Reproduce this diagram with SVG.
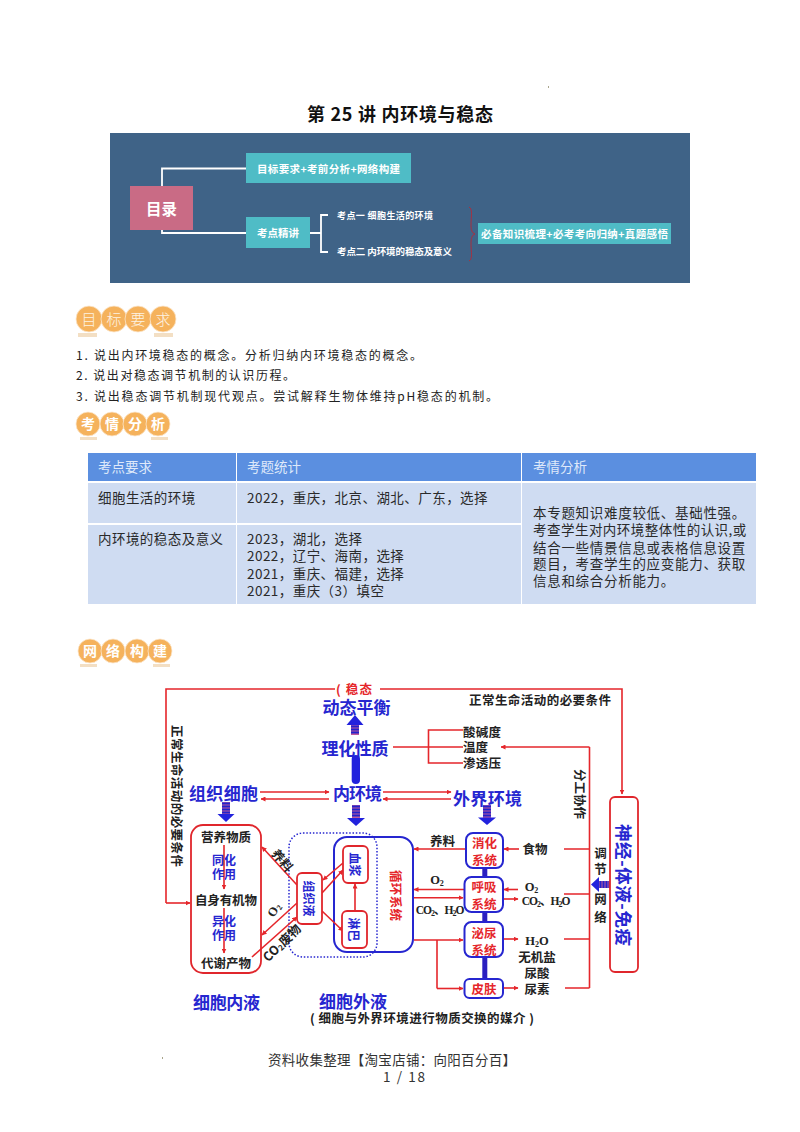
<svg xmlns="http://www.w3.org/2000/svg" width="800" height="1132" viewBox="0 0 800 1132">
<style>
text{font-family:"Noto Sans CJK SC","Noto Sans",sans-serif;dominant-baseline:central}
text:not([transform]){transform:translateY(-1px)}
.m{text-anchor:middle}
.b{font-weight:700}
.bn{fill:#fff;font-weight:700}
.teal{fill:#4fbcc6}
.wl{fill:none;stroke:#fff;stroke-width:1.8}
.circ{fill:#f5b25c;stroke:#fbe6cb;stroke-width:.8}
.shad{fill:#f3dfc4}
.bt{fill:#fdf3e3;font-size:15px;font-weight:300;text-anchor:middle}
.bt2{fill:#fff;font-size:14px;font-weight:700;text-anchor:middle}
.goal{font-size:12px;fill:#222}
.hd{fill:#5b8fe0}
.row{fill:#cfdcf2}
.th{font-size:13.5px;fill:#dfe9fa}
.td{font-size:13.5px;fill:#2a2a2a;letter-spacing:.45px}
.tw{font-size:13.5px;fill:#2a2a2a;letter-spacing:.7px}
.r{fill:none;stroke:#e5262b;stroke-width:1.6}
.ra{fill:none;stroke:#e5262b;stroke-width:1.6;marker-end:url(#a)}
.rb{fill:#fff;stroke:#e0262c;stroke-width:1.8}
.bb{fill:#fff;stroke:#2626d0;stroke-width:2}
.title{font-size:17px;font-weight:700;fill:#2626d0}
.k{font-size:12.5px;font-weight:700;fill:#222}
.sm{font-size:12px;font-weight:700;fill:#2626d0}
.red{font-size:12.5px;font-weight:700;fill:#e5262b}
.lat{font-family:"Liberation Serif",serif;font-size:12.5px;font-weight:700;fill:#222}
.cw{font-family:"Liberation Serif","Noto Sans CJK SC",serif;font-size:11.5px;font-weight:700;fill:#222;letter-spacing:-1px}
.fat{fill:#2222dd}
.under{fill:#c05a9a}
.stripe{stroke:#2222cc;stroke-width:2}
.bar{fill:#2a1fc0}
</style>
<defs>
<marker id="a" viewBox="0 0 10 10" refX="9" refY="5" markerWidth="5" markerHeight="5" markerUnits="userSpaceOnUse" orient="auto"><path d="M0 0L10 5L0 10z" fill="#e5262b"/></marker>
</defs>
<rect width="800" height="1132" fill="#fff"/>

<text x="400" y="114" class="m b" font-size="18" fill="#111" textLength="186">第 25 讲 内环境与稳态</text>

<g id="banner">
<rect x="110" y="133" width="580" height="150" fill="#3f6387"/>
<path class="wl" d="M162 186V168.500H246M162 230V233H246M310 233H321M328 215H321V252H328"/>
<path d="M469 207C473 209 471 216 471 225C471 230 472 233 475 234C472 235 471 238 471 244C471 252 473 259 469 261" fill="none" stroke="#a83040" stroke-width="1"/>
<g id="banner-root"><rect x="130" y="186" width="63" height="44" fill="#c96b85"/><text x="161.500" y="209" class="m bn" font-size="15.500">目录</text></g>
<g id="banner-a"><rect x="246" y="153" width="165" height="30" class="teal"/><text x="328.500" y="169" class="m bn" font-size="10.500" textLength="143">目标要求+考前分析+网络构建</text></g>
<g id="banner-b"><rect x="246" y="217" width="64" height="31" class="teal"/><text x="278" y="233" class="m bn" font-size="10.500">考点精讲</text></g>
<text x="337" y="216" class="bn" font-size="9" textLength="96">考点一 细胞生活的环境</text>
<text x="337" y="252" class="bn" font-size="9.500" textLength="115">考点二 内环境的稳态及意义</text>
<g id="banner-c"><rect x="478" y="223" width="193" height="21" class="teal"/><text x="574.500" y="234" class="m bn" font-size="10.500" textLength="187">必备知识梳理+必考考向归纳+真题感悟</text></g>
</g>

<g id="badge-goal">
<rect x="78" y="333" width="19" height="4" class="shad"/><rect x="154" y="333" width="19" height="4" class="shad"/>
<circle cx="89" cy="319" r="13" class="circ"/><circle cx="114" cy="319" r="13" class="circ"/><circle cx="138" cy="319" r="13" class="circ"/><circle cx="163" cy="319" r="13" class="circ"/>
<text x="89" y="319" class="bt">目</text><text x="114" y="319" class="bt">标</text><text x="138" y="319" class="bt">要</text><text x="163" y="319" class="bt">求</text>
</g>
<text x="76" y="355" class="goal" textLength="346">1. 说出内环境稳态的概念。分析归纳内环境稳态的概念。</text>
<text x="76" y="375" class="goal" textLength="219">2. 说出对稳态调节机制的认识历程。</text>
<text x="76" y="396" class="goal" textLength="422">3. 说出稳态调节机制现代观点。尝试解释生物体维持pH稳态的机制。</text>

<g id="badge-exam">
<rect x="80" y="437" width="17" height="3" class="shad"/><rect x="151" y="437" width="17" height="3" class="shad"/>
<circle cx="88" cy="424" r="12" class="circ"/><circle cx="112" cy="424" r="12" class="circ"/><circle cx="135" cy="424" r="12" class="circ"/><circle cx="158" cy="424" r="12" class="circ"/>
<text x="88" y="424" class="bt2">考</text><text x="112" y="424" class="bt2">情</text><text x="135" y="424" class="bt2">分</text><text x="158" y="424" class="bt2">析</text>
</g>

<g id="table">
<rect x="88" y="453" width="148" height="28" class="hd"/><rect x="237" y="453" width="284" height="28" class="hd"/><rect x="522" y="453" width="234" height="28" class="hd"/>
<rect x="88" y="483" width="148" height="40" class="row"/><rect x="237" y="483" width="284" height="40" class="row"/>
<rect x="88" y="525" width="148" height="79" class="row"/><rect x="237" y="525" width="284" height="79" class="row"/>
<rect x="522" y="483" width="234" height="121" class="row"/>
<text x="98" y="467" class="th">考点要求</text><text x="247" y="467" class="th">考题统计</text><text x="533" y="467" class="th">考情分析</text>
<text x="98" y="498" class="td">细胞生活的环境</text>
<text x="247" y="498" class="td">2022，重庆，北京、湖北、广东，选择</text>
<text x="98" y="539" class="td">内环境的稳态及意义</text>
<text x="247" y="539" class="td">2023，湖北，选择</text>
<text x="247" y="556" class="td">2022，辽宁、海南，选择</text>
<text x="247" y="574" class="td">2021，重庆、福建，选择</text>
<text x="247" y="591" class="td">2021，重庆（3）填空</text>
<text x="533" y="513" class="tw">本专题知识难度较低、基础性强。</text>
<text x="533" y="530" class="tw" textLength="214">考查学生对内环境整体性的认识,或</text>
<text x="533" y="548" class="tw">结合一些情景信息或表格信息设置</text>
<text x="533" y="564" class="tw">题目，考查学生的应变能力、获取</text>
<text x="533" y="581" class="tw">信息和综合分析能力。</text>
</g>

<g id="badge-net">
<rect x="80" y="664" width="17" height="3" class="shad"/><rect x="153" y="664" width="17" height="3" class="shad"/>
<circle cx="90" cy="651" r="12" class="circ"/><circle cx="113" cy="651" r="12" class="circ"/><circle cx="137" cy="651" r="12" class="circ"/><circle cx="160" cy="651" r="12" class="circ"/>
<text x="90" y="651" class="bt2">网</text><text x="113" y="651" class="bt2">络</text><text x="137" y="651" class="bt2">构</text><text x="160" y="651" class="bt2">建</text>
</g>

<g id="containers">
<rect x="334" y="837" width="79" height="115" rx="13" fill="none" stroke="#2626d0" stroke-width="2"/>
<rect x="289" y="833" width="88" height="124" rx="14" fill="none" stroke="#2626d0" stroke-width="1.500" stroke-dasharray="1.500 1.800"/>
</g>

<g id="connectors">
<path class="r" d="M335 689H166V903"/>
<path class="ra" d="M166 903H190"/>
<path class="ra" d="M380 689H622V794"/>
<path class="r" d="M393 747H463M463 730H428.500V763H463"/>
<path class="ra" d="M589.500 747H501"/>
<path class="r" d="M589.500 747V988M564 849H589.500M564 894H589.500M564 939H589.500M565 988H589.500"/>
<path class="ra" d="M260 792H329"/><path class="ra" d="M329 799H261"/>
<path class="ra" d="M383 792H451"/><path class="ra" d="M451 799H383"/>
<path class="ra" d="M466 849H414"/><path class="ra" d="M519 849H504"/>
<path class="ra" d="M464 889.500H414"/><path class="ra" d="M414 897.700H463"/>
<path class="ra" d="M518 889.500H504"/><path class="ra" d="M503 899H518"/>
<path class="ra" d="M414 940H463"/><path class="r" d="M437 940V988.500"/><path class="ra" d="M437 988.500H463"/>
<path class="ra" d="M503 939H518"/><path class="ra" d="M503 988H518"/>
<path class="ra" d="M355 911V884"/>
<path class="ra" d="M343 863L323 880"/>
<path class="ra" d="M322 893L343 870"/>
<path class="ra" d="M322 911L343 931"/>
<path class="ra" d="M297 885L262 847"/>
<path class="ra" d="M297 903L262 935"/>
<path class="ra" d="M252 957L297 917"/>
<path class="ra" d="M224 845V889"/>
<path class="ra" d="M224 908V953"/>
<rect x="482.300" y="868" width="5" height="9" class="bar"/>
<rect x="482.300" y="912" width="5" height="10" class="bar"/>
<rect x="482.300" y="957" width="5" height="22" class="bar"/>
<rect x="351.700" y="755" width="8.300" height="29" rx="4.100" class="fat"/>
<g id="fat-up"><rect x="351" y="725" width="8" height="10" class="under"/><path class="stripe" d="M351 726.500H359M351 729.500H359M351 732.500H359"/><path class="fat" d="M355 715L363.500 725H346.500z"/></g>
<g id="fat-d1"><rect x="222" y="802" width="8" height="12" class="under"/><path class="stripe" d="M222 803.500H230M222 806.500H230M222 809.500H230M222 812.500H230"/><path class="fat" d="M226 822L217.500 814H234.500z"/></g>
<g id="fat-d2"><rect x="352" y="805" width="8" height="13" class="under"/><path class="stripe" d="M352 806.500H360M352 809.500H360M352 812.500H360M352 815.500H360"/><path class="fat" d="M356 826L347 818H365z"/></g>
<g id="fat-d3"><rect x="483" y="805" width="8" height="13" class="under"/><path class="stripe" d="M483 806.500H491M483 809.500H491M483 812.500H491M483 815.500H491"/><path class="fat" d="M487 825L478 817.500H496z"/></g>
<g id="fat-l"><rect x="599" y="881" width="11" height="7" class="under"/><path class="stripe" d="M600.500 881V888M603.500 881V888M606.500 881V888M609.500 881V888"/><path class="fat" d="M591 884.500L599 877V892z"/></g>
</g>

<g id="homeostasis"><text x="336" y="689" class="red" textLength="36">( 稳态</text></g>
<g id="dynamic"><text x="356.500" y="707" class="title m" textLength="68">动态平衡</text></g>
<g id="physchem"><text x="355" y="748" class="title m" textLength="67">理化性质</text></g>
<g id="tissue-cell"><text x="223.500" y="793" class="title m" textLength="69">组织细胞</text></g>
<g id="inner-env"><text x="357.500" y="793" class="title m" textLength="49">内环境</text></g>
<g id="outer-env"><text x="487.500" y="798" class="title m" textLength="69">外界环境</text></g>
<g id="props">
<text x="463" y="732" class="k" textLength="38">酸碱度</text>
<text x="463" y="747" class="k" textLength="25">温度</text>
<text x="463" y="763" class="k" textLength="38">渗透压</text>
</g>
<text x="469" y="700" class="k" textLength="142">正常生命活动的必要条件</text>
<text x="177" y="796" class="k m" transform="rotate(90 177 796)" textLength="142">正常生命活动的必要条件</text>
<text x="580" y="794" class="k m" transform="rotate(90 580 794)" textLength="50">分工协作</text>
<text x="600.500" y="853" class="k m">调</text><text x="600.500" y="869" class="k m">节</text><text x="600.500" y="899" class="k m">网</text><text x="600.500" y="917" class="k m">络</text>

<g id="neuro"><rect x="610" y="797" width="28" height="175" rx="5" class="rb"/><text x="624" y="885" class="m b" font-size="17.500" fill="#2626d0" transform="rotate(90 624 885)" textLength="122">神经-体液-免疫</text></g>

<g id="digestive"><rect x="466" y="833" width="37" height="35" rx="7" class="bb"/><text x="484.500" y="843" class="red m">消化</text><text x="484.500" y="860" class="red m">系统</text></g>
<g id="respiratory"><rect x="464.500" y="877" width="38.500" height="35" rx="7" class="bb"/><text x="484" y="887" class="red m">呼吸</text><text x="484" y="904" class="red m">系统</text></g>
<g id="urinary"><rect x="464.500" y="922" width="38.500" height="35" rx="7" class="bb"/><text x="484" y="933" class="red m">泌尿</text><text x="484" y="950" class="red m">系统</text></g>
<g id="skin"><rect x="464.500" y="979" width="38.500" height="19" rx="5" class="bb"/><text x="484" y="989" class="red m">皮肤</text></g>

<text x="442.500" y="841" class="k m">养料</text>
<text x="535" y="849" class="k m">食物</text>
<text x="437" y="881" class="lat m">O<tspan font-size="8" dy="3">2</tspan></text>
<text x="439.500" y="911" class="cw m">CO<tspan font-size="8" dy="3">2</tspan><tspan dy="-3">、H</tspan><tspan font-size="8" dy="3">2</tspan><tspan dy="-3">O</tspan></text>
<text x="531.500" y="888" class="lat m">O<tspan font-size="8" dy="3">2</tspan></text>
<text x="545.500" y="902" class="cw m">CO<tspan font-size="8" dy="3">2</tspan><tspan dy="-3">、H</tspan><tspan font-size="8" dy="3">2</tspan><tspan dy="-3">O</tspan></text>
<text x="537" y="942" class="lat m">H<tspan font-size="8" dy="3">2</tspan><tspan dy="-3">O</tspan></text>
<text x="537" y="957" class="k m">无机盐</text>
<text x="537" y="973" class="k m">尿酸</text>
<text x="537" y="989" class="k m">尿素</text>

<g id="plasma"><rect x="343" y="846" width="25" height="37" rx="5" class="rb"/><text x="355.500" y="864.500" class="sm m" transform="rotate(90 355.500 864.500)">血浆</text></g>
<g id="lymph"><rect x="342" y="911" width="25" height="37" rx="5" class="rb"/><text x="354.500" y="929.500" class="sm m" transform="rotate(90 354.500 929.500)">淋巴</text></g>
<g id="tissue-fluid"><rect x="297" y="873" width="25" height="51" rx="5" class="rb"/><text x="309.500" y="898.500" class="sm m" transform="rotate(90 309.500 898.500)">组织液</text></g>
<text x="396" y="895.500" class="red m" transform="rotate(90 396 895.500)" textLength="51">循环系统</text>

<g id="cell"><rect x="191" y="825" width="70" height="148" rx="12" fill="none" stroke="#e0262c" stroke-width="1.800"/>
<text x="226" y="837" class="k m" textLength="50">营养物质</text>
<text x="226" y="900" class="k m" textLength="62">自身有机物</text>
<text x="226" y="963" class="k m" textLength="50">代谢产物</text>
<text x="224" y="860" class="sm m">同化</text><text x="224" y="874" class="sm m">作用</text>
<text x="224" y="921" class="sm m">异化</text><text x="224" y="935" class="sm m">作用</text>
</g>
<text x="283" y="860" class="k m" transform="rotate(50 283 860)">养料</text>
<text x="274" y="910" class="lat m" transform="rotate(-60 274 910)">O<tspan font-size="8" dy="3">2</tspan></text>
<text x="281" y="942" class="k m" transform="rotate(-45 281 942)">CO<tspan font-size="8" dy="3">2</tspan><tspan dy="-3">废物</tspan></text>

<text x="226.500" y="1002" class="title m" textLength="67">细胞内液</text>
<text x="353" y="1001" class="title m" textLength="68">细胞外液</text>
<text x="422" y="1018" class="k m" textLength="224">( 细胞与外界环境进行物质交换的媒介 )</text>

<text x="392" y="1060" class="m" font-size="13.500" fill="#333" textLength="248">资料收集整理【淘宝店铺：向阳百分百】</text>
<text x="404" y="1077" class="m" font-size="13.500" fill="#333" textLength="42">1 / 18</text>
<rect x="162" y="1057" width="1" height="2" fill="#a9a58c"/>
<rect x="548" y="86" width="1" height="2" fill="#a9a58c"/>
</svg>
